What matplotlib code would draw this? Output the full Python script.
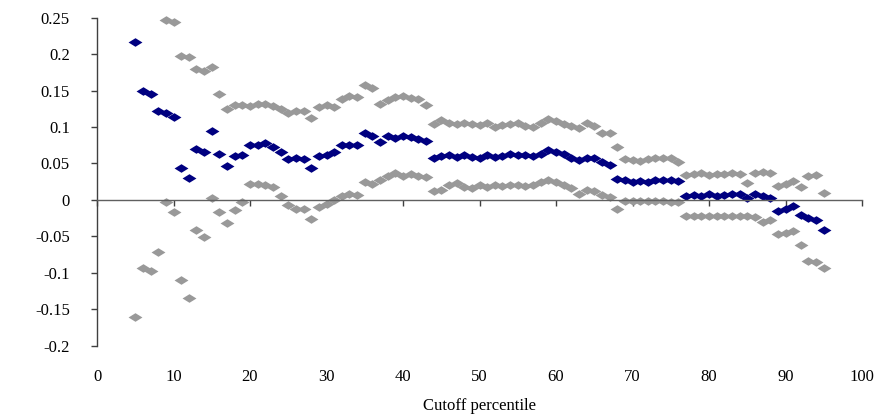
import numpy as np
import matplotlib.pyplot as plt

plt.rcParams['font.family'] = ['Liberation Serif', 'DejaVu Serif']

# cutoff percentiles 5..95
pct = list(range(5, 96))

# point estimate (dark blue)
est = [0.216, 0.149, 0.145, 0.122, 0.119, 0.114, 0.044, 0.030, 0.070, 0.066,
       0.094, 0.063, 0.046, 0.060, 0.061, 0.075, 0.076, 0.078, 0.073, 0.066,
       0.056, 0.057, 0.056, 0.044, 0.060, 0.061, 0.066, 0.075, 0.076, 0.076,
       0.092, 0.088, 0.080, 0.088, 0.085, 0.088, 0.086, 0.084, 0.081, 0.057,
       0.060, 0.062, 0.059, 0.062, 0.059, 0.058, 0.062, 0.059, 0.060, 0.063,
       0.061, 0.062, 0.060, 0.063, 0.068, 0.066, 0.063, 0.058, 0.055, 0.058,
       0.057, 0.052, 0.048, 0.029, 0.027, 0.025, 0.026, 0.025, 0.027, 0.028,
       0.027, 0.026, 0.005, 0.007, 0.006, 0.008, 0.005, 0.007, 0.008, 0.008,
       0.002, 0.008, 0.005, 0.003, -0.015, -0.012, -0.008, -0.021, -0.025, -0.027,
       -0.041]

# upper bound (grey), first four are above the plot area
upper = [np.nan, np.nan, np.nan, np.nan, 0.247, 0.244, 0.197, 0.196, 0.180, 0.177,
         0.182, 0.145, 0.125, 0.130, 0.130, 0.129, 0.131, 0.131, 0.129, 0.125,
         0.119, 0.122, 0.122, 0.113, 0.127, 0.130, 0.128, 0.138, 0.143, 0.141,
         0.157, 0.153, 0.131, 0.137, 0.141, 0.142, 0.140, 0.138, 0.130, 0.104,
         0.110, 0.106, 0.104, 0.106, 0.104, 0.103, 0.105, 0.100, 0.103, 0.104,
         0.105, 0.102, 0.100, 0.106, 0.111, 0.108, 0.104, 0.101, 0.098, 0.106,
         0.102, 0.092, 0.092, 0.072, 0.056, 0.055, 0.054, 0.056, 0.057, 0.058,
         0.057, 0.052, 0.034, 0.036, 0.037, 0.034, 0.036, 0.036, 0.037, 0.035,
         0.023, 0.037, 0.038, 0.037, 0.019, 0.022, 0.026, 0.018, 0.033, 0.034,
         0.010]

# lower bound (grey)
lower = [-0.161, -0.094, -0.097, -0.072, -0.003, -0.016, -0.110, -0.135, -0.041, -0.051,
         0.002, -0.016, -0.032, -0.014, -0.003, 0.022, 0.022, 0.021, 0.018, 0.006,
         -0.007, -0.012, -0.012, -0.026, -0.010, -0.006, 0.000, 0.006, 0.008, 0.007,
         0.025, 0.022, 0.028, 0.033, 0.037, 0.033, 0.035, 0.033, 0.031, 0.012,
         0.014, 0.020, 0.023, 0.018, 0.016, 0.020, 0.018, 0.021, 0.019, 0.021,
         0.021, 0.019, 0.021, 0.025, 0.028, 0.024, 0.021, 0.016, 0.008, 0.014,
         0.012, 0.007, 0.004, -0.012, -0.002, -0.002, -0.002, -0.002, -0.002, -0.002,
         -0.003, -0.003, -0.022, -0.022, -0.022, -0.022, -0.022, -0.022, -0.022, -0.022,
         -0.022, -0.024, -0.030, -0.027, -0.047, -0.045, -0.043, -0.062, -0.084, -0.085,
         -0.093]

x_ticks = [0, 10, 20, 30, 40, 50, 60, 70, 80, 90, 100]
y_ticks = [-0.2, -0.15, -0.1, -0.05, 0, 0.05, 0.1, 0.15, 0.2, 0.25]
y_labels = ['-0.2', '-0.15', '-0.1', '-0.05', '0', '0.05', '0.1', '0.15', '0.2', '0.25']

# flattened diamond like the Excel marker
diamond = [(-1, 0), (0, 0.62), (1, 0), (0, -0.62)]

fig = plt.figure(figsize=(8.83, 4.19), dpi=100)
ax = fig.add_axes([97 / 883, 1 - 345.7 / 419, 765 / 883, 328 / 419])

ax.plot(pct, upper, linestyle='none', marker=diamond, markersize=10,
        color='#999999', markeredgewidth=0, clip_on=False)
ax.plot(pct, lower, linestyle='none', marker=diamond, markersize=10,
        color='#999999', markeredgewidth=0, clip_on=False)
ax.plot(pct, est, linestyle='none', marker=diamond, markersize=10,
        color='#000080', markeredgewidth=0, clip_on=False)

ax.set_xlim(0, 100)
ax.set_ylim(-0.2, 0.25)

ax.spines['top'].set_visible(False)
ax.spines['right'].set_visible(False)
ax.spines['bottom'].set_position(('data', 0))
ax.spines['bottom'].set_color('#606060')
ax.spines['left'].set_color('#404040')
ax.spines['bottom'].set_linewidth(1.0)
ax.spines['left'].set_linewidth(1.0)

ax.set_xticks(x_ticks)
ax.tick_params(axis='x', direction='out', length=4.5, width=1.0,
               color='#404040', labelbottom=False)
ax.set_yticks(y_ticks)
ax.set_yticklabels(y_labels)
ax.tick_params(axis='y', direction='out', length=4.5, width=1.0,
               color='#404040', pad=15, labelsize=12)

# tick labels stay at the bottom of the plot area
sec = ax.secondary_xaxis('bottom')
sec.spines['bottom'].set_visible(False)
sec.set_xticks(x_ticks)
sec.set_xticklabels([str(t) for t in x_ticks])
sec.tick_params(length=0, pad=17, labelsize=12)
sec.set_xlabel('Cutoff percentile', fontsize=12, labelpad=9)

fig.savefig('out.png', dpi=100)
